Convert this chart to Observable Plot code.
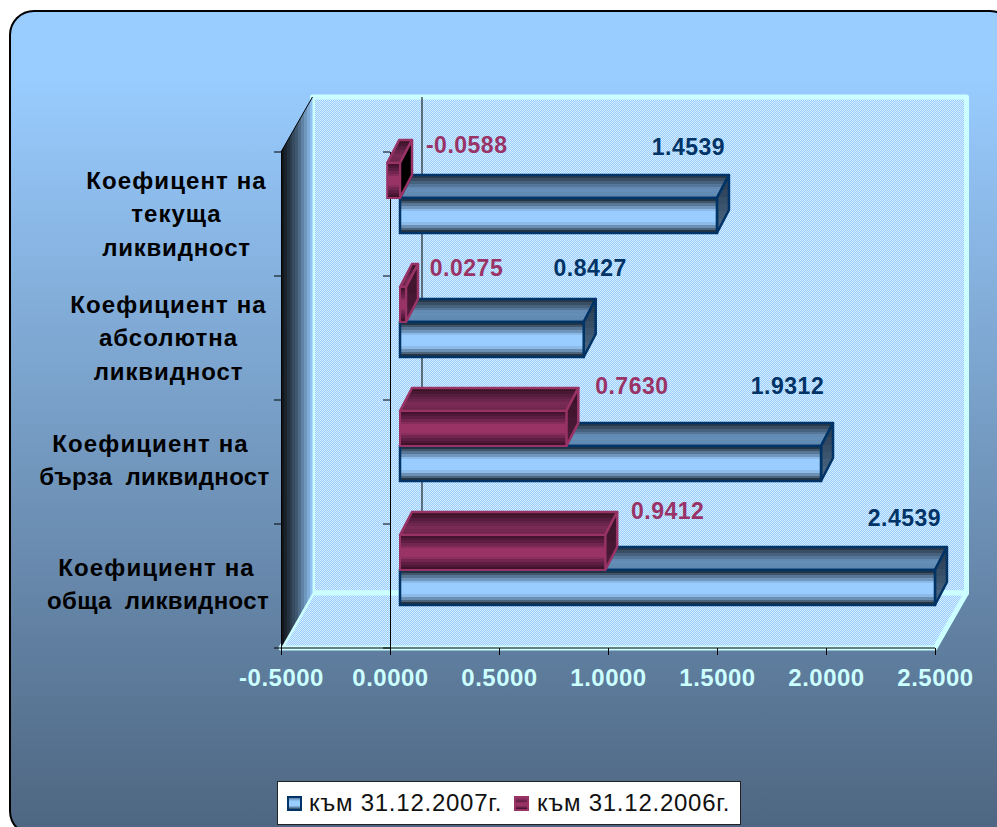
<!DOCTYPE html>
<html lang="bg">
<head>
<meta charset="utf-8">
<script src="https://cdn.jsdelivr.net/npm/d3@7"></script>
<script src="https://cdn.jsdelivr.net/npm/@observablehq/plot@0.6"></script>
<style>
html,body{margin:0;padding:0;width:997px;height:827px;overflow:hidden;background:#fff;font-family:"Liberation Sans",Arial,sans-serif}
#panel{position:absolute;left:9px;top:10px;width:1002px;height:822px;border:2px solid #000;border-radius:25px;background:linear-gradient(#99CCFF 0%,#99CCFF 8%,#4D6580 100%);box-sizing:content-box}
#chart{position:absolute;left:0;top:0}
#legend{position:absolute;left:277px;top:781px;width:462px;height:42px;background:#fff;border:1px solid #222;color:#111;font-size:24px}
#legend span{position:absolute;top:7px;white-space:nowrap;letter-spacing:.75px}
#legend i{position:absolute;top:14px;width:11px;height:11px;border:2px solid}
</style>
</head>
<body>
<div id="panel"></div>
<div id="chart"></div>
<div id="legend"></div>
<script>
const categories = ["Коефицент на\nтекуща\nликвидност", "Коефициент на\nабсолютна\nликвидност", "Коефициент на\nбърза ликвидност", "Коефициент на\nобща ликвидност"];
const series2007 = "към 31.12.2007г.";
const series2006 = "към 31.12.2006г.";
const values2007 = [1.4539, 0.8427, 1.9312, 2.4539];
const values2006 = [-0.0588, 0.0275, 0.7630, 0.9412];
const xTicks = [-0.5, 0, 0.5, 1, 1.5, 2, 2.5];

const BLUE = "#003366", RED = "#993366", PALE = "#CCFFFF";
const depth = {x: 31.5, y: -55};       // depth of the chart box
const barFront = {x: 10, y: -16};      // where bar fronts sit inside it
const barDepth = {x: 12, y: -23};      // depth of one bar

const rows = s => categories.map((category, i) => ({category, series: s, value: (s === series2007 ? values2007 : values2006)[i]}));
const rows2007 = rows(series2007), rows2006 = rows(series2006);

function bandStops(grad, colorAt, n) {
  for (let i = 0; i < n; i++) {
    const c = colorAt((i + .5) / n);
    grad.append("stop").attr("offset", i / n).attr("stop-color", c);
    grad.append("stop").attr("offset", (i + 1) / n).attr("stop-color", c);
  }
}
function addDefs(g) {
  const defs = g.append("defs");
  const vert = id => defs.append("linearGradient").attr("id", id).attr("x1", 0).attr("x2", 0).attr("y1", 0).attr("y2", 1);
  const ramp = (stops) => d3.scaleLinear().domain(stops.map(d => d[0])).range(stops.map(d => d[1])).interpolate(d3.interpolateRgb);
  bandStops(vert("blueFront"), ramp([[0,"#182430"],[.1,"#3a4e62"],[.2,"#5a7a9a"],[.3,"#7aa3cc"],[.38,"#99CCFF"],[.7,"#99CCFF"],[.8,"#6f94b9"],[.9,"#465c72"],[1,"#141c24"]]), 13);
  bandStops(vert("redFront"), ramp([[0,"#3f1029"],[.2,"#5f1f44"],[.42,"#993366"],[.6,"#993366"],[.8,"#5f1f44"],[1,"#3a0f26"]]), 13);
  bandStops(vert("blueTop"), ramp([[0,"#222e3a"],[.3,"#46607c"],[.6,"#6690ba"],[1,"#5f86ad"]]), 8);
  bandStops(vert("redTop"), ramp([[0,"#34101f"],[.35,"#5a1f42"],[.7,"#7a2b55"],[1,"#6d264c"]]), 8);
  bandStops(vert("blueSide"), ramp([[0,"#24364a"],[1,"#4f6d8c"]]), 8);
  bandStops(vert("redSide"), ramp([[0,"#3a1228"],[1,"#4f1c3b"]]), 4);
  const side = defs.append("linearGradient").attr("id", "wallSide");
  bandStops(side, ramp([[0,"#0c0f12"],[.5,"#3f5870"],[1,"#99CCFF"]]), 11);
  const dots = defs.append("pattern").attr("id", "dots").attr("width", 2).attr("height", 2).attr("patternUnits", "userSpaceOnUse");
  dots.append("rect").attr("width", 2).attr("height", 2).attr("fill", "#99CCFF");
  dots.append("rect").attr("width", 1).attr("height", 1).attr("fill", "#D6EEFF");
  dots.append("rect").attr("x", 1).attr("y", 1).attr("width", 1).attr("height", 1).attr("fill", "#D6EEFF");
}
// Chart box: walls, floor and category ticks, all placed from the plot's own scales
function scene(index, scales, values, dims) {
  const g = d3.create("svg:g");
  addDefs(g);
  const L = scales.x(-0.5), R = scales.x(2.5), T = dims.marginTop, B = dims.height - dims.marginBottom;
  const poly = pts => g.append("polygon").attr("points", pts.map(p => p.join(",")).join(" "));
  g.append("rect").attr("x", L + depth.x).attr("y", T + depth.y).attr("width", R - L).attr("height", B - T)
    .attr("fill", "url(#dots)").attr("stroke", PALE).attr("stroke-width", 5).attr("stroke-linejoin", "round");
  poly([[L, B], [L + depth.x, B + depth.y], [R + depth.x, B + depth.y], [R, B]]).attr("fill", "url(#dots)").attr("stroke", PALE).attr("stroke-width", 5).attr("stroke-linejoin", "round");
  poly([[L, T], [L + depth.x, T + depth.y], [L + depth.x, B + depth.y], [L, B]]).attr("fill", "url(#wallSide)");
  g.append("line").attr("x1", L).attr("y1", T).attr("x2", L + depth.x).attr("y2", T + depth.y).attr("stroke", "#000");
  const edges = categories.map(c => scales.fy(c)).concat(scales.fy(categories[3]) + scales.fy.bandwidth());
  for (const y of edges) for (const x of [L, scales.x(0)]) {
    g.append("line").attr("x1", x - 7).attr("x2", x).attr("y1", y).attr("y2", y).attr("stroke", "#000");
  }
  g.append("line").attr("x1", L).attr("x2", R).attr("y1", B).attr("y2", B).attr("stroke", "#000");
  return g.node();
}
// Adds the top and side faces behind each bar that the library drew
function faces(top, side, stroke) {
  return function (index, scales, values, dims, context, next) {
    const g = next(index, scales, values, dims, context);
    d3.select(g).selectAll("rect").each(function (d, j) {
      const r = this, x = +r.getAttribute("x"), y = +r.getAttribute("y"), w = +r.getAttribute("width");
      const h = +r.getAttribute("height"), dx = barDepth.x, dy = barDepth.y;
      const negative = x + w <= scales.x(0) + 0.5;
      const poly = (pts, fill) => {
        const p = document.createElementNS("http://www.w3.org/2000/svg", "polygon");
        p.setAttribute("points", pts.map(q => q.join(",")).join(" "));
        p.setAttribute("fill", fill); p.setAttribute("stroke", stroke); p.setAttribute("stroke-width", 2.5); p.setAttribute("stroke-linejoin", "round");
        r.parentNode.insertBefore(p, r);
      };
      poly([[x, y], [x + dx, y + dy], [x + w + dx, y + dy], [x + w, y]], `url(#${top})`);
      poly([[x + w, y], [x + w + dx, y + dy], [x + w + dx, y + h + dy], [x + w, y + h]], negative ? "#000" : `url(#${side})`);
    });
    return g;
  };
}
const valueLabels = [
  [rows2007, BLUE, [-19, 16, -24, -21], [-84.5, -87.5, -93.5, -85.5]],
  [rows2006, RED, [89, 70, 75, 72], [-51.5, -52.5, -58.5, -57.5]]
].flatMap(([data, color, dxs, dys]) => data.map((d, i) => Plot.text([d], {
  x: "value", y: "series", fy: "category", text: r => r.value.toFixed(4),
  dx: dxs[i], dy: dys[i], fill: color, fontWeight: "bold", fontSize: 23
})));
const labelDx = [-105, -113, -121, -118];
const labelDy = [-3, -3, -5, -5];
const lineDx = [[0, 0, 0], [0, 0, 0], [-10, -6], [-7, -5.5]];
const lineSpacing = [[1.1, 1, 0.8], [1.1, 1, 0.9], [1.1, 0.35], [1.1, 0.35]];
const lineWordGap = [[0, 0, 0], [0, 0, 0], [0, 6], [0, 6]];
const categoryLabels = categories.map((c, i) => Plot.text([{category: c}], {
  fy: "category", text: "category", frameAnchor: "left", textAnchor: "middle",
  dx: labelDx[i], dy: labelDy[i], fill: "#000", fontWeight: "bold", fontSize: 24, lineHeight: 1.39,
  render(index, scales, values, dims, context, next) {
    const g = next(index, scales, values, dims, context);
    if (g) g.querySelectorAll("tspan").forEach((t, k) => {
      t.style.letterSpacing = lineSpacing[i][k] + "px";
      t.style.wordSpacing = lineWordGap[i][k] + "px";
      t.setAttribute("dx", lineDx[i][k]);
    });
    return g;
  }
}));

const chart = Plot.plot({
  width: 997, height: 827,
  marginTop: 152, marginBottom: 179, marginLeft: 281, marginRight: 62,
  style: {background: "transparent", fontFamily: "'Liberation Sans',Arial,sans-serif", overflow: "visible", letterSpacing: "0.5px"},
  x: {domain: [-0.5, 2.5], label: null},
  y: {domain: [series2006, series2007], axis: null, label: null, paddingInner: 0, paddingOuter: 0.77},
  fy: {domain: categories, axis: null, label: null, padding: 0},
  marks: [
    Plot.frame({facet: "super", stroke: "none", fill: "none", render: (i, s, v, d) => scene(i, s, v, d)}),
    Plot.ruleX([0], {stroke: "#000", dx: depth.x, dy: depth.y}),
    Plot.ruleX([-0.5, 0], {stroke: "#000"}),
    Plot.axisX(xTicks, {anchor: "bottom", tickSize: 7, tickPadding: 13, label: null, tickFormat: d => d.toFixed(4), stroke: "#000", fill: PALE, fontSize: 24, fontWeight: "bold"}),
    Plot.barX(rows2007, {x: "value", y: "series", fy: "category", dx: barFront.x, dy: barFront.y, fill: "url(#blueFront)", stroke: BLUE, strokeWidth: 2.5, render: faces("blueTop", "blueSide", BLUE)}),
    Plot.barX(rows2006, {x: "value", y: "series", fy: "category", dx: barFront.x, dy: barFront.y, fill: "url(#redFront)", stroke: RED, strokeWidth: 2, render: faces("redTop", "redSide", RED)}),
    ...valueLabels,
    ...categoryLabels
  ]
});
document.getElementById("chart").append(chart);

const legend = d3.select("#legend");
legend.append("i").style("left", "9px").style("border-color", BLUE).style("background", "linear-gradient(#5f86ad,#99CCFF 30%,#99CCFF 70%,#33475c)");
legend.append("span").style("left", "31px").text(series2007);
legend.append("i").style("left", "236px").style("border-color", RED).style("background", "linear-gradient(#993366,#5f1f44 30%,#993366 45%,#993366 70%,#3a0f26)");
legend.append("span").style("left", "259px").text(series2006);
</script>
</body>
</html>
